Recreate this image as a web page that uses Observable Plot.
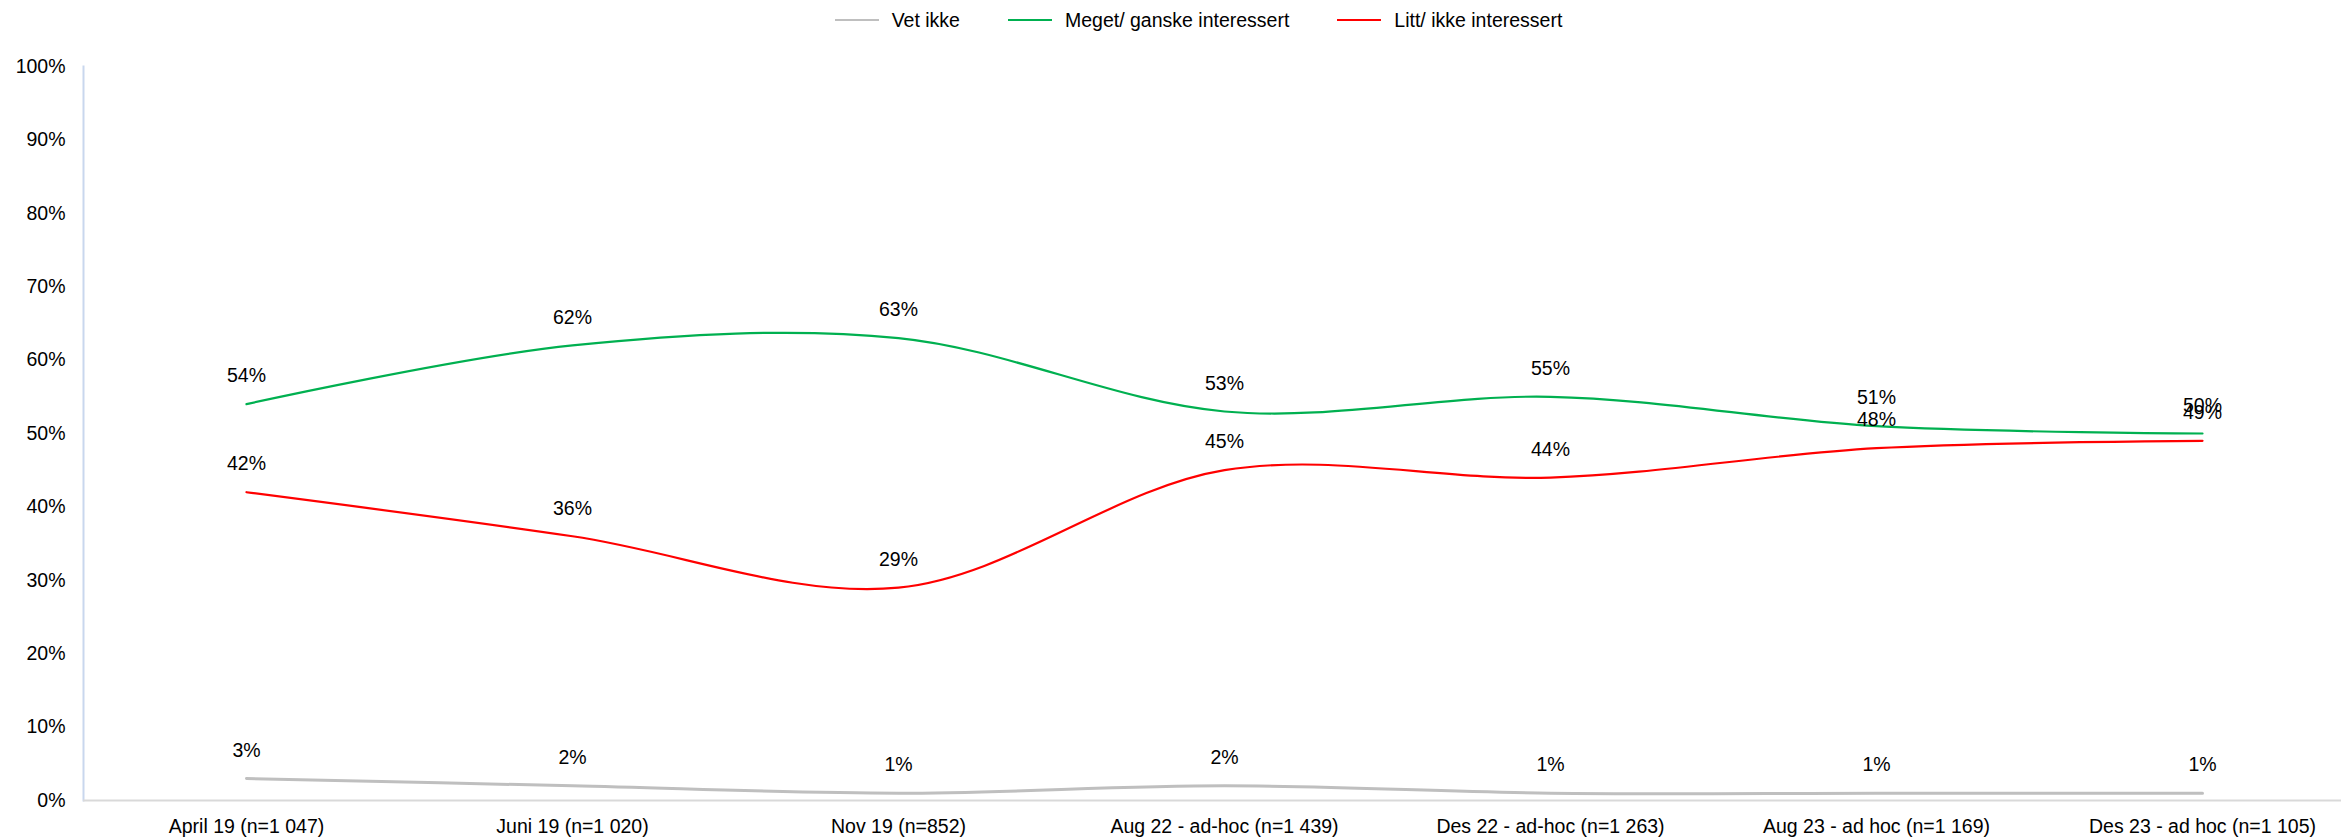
<!DOCTYPE html>
<html>
<head>
<meta charset="utf-8">
<script src="https://cdn.jsdelivr.net/npm/d3@7"></script>
<script src="https://cdn.jsdelivr.net/npm/@observablehq/plot@0.6"></script>
<style>
  html, body { margin: 0; padding: 0; background: #fff; }
  body { width: 2341px; height: 838px; overflow: hidden; font-family: "Liberation Sans", Arial, sans-serif; }
  #legend { height: 40px; display: flex; justify-content: center; align-items: center; font-size: 19.5px; color: #000; box-sizing: border-box; padding-left: 56px; }
  .item { display: flex; align-items: center; margin: 0 24px; }
  .swatch { width: 44px; height: 0; border-top: 2.5px solid; margin-right: 13px; }
</style>
</head>
<body>
<div id="legend"></div>
<div id="chart"></div>
<script>
const categories = [
  "April 19 (n=1 047)",
  "Juni 19 (n=1 020)",
  "Nov 19 (n=852)",
  "Aug 22 - ad-hoc (n=1 439)",
  "Des 22 - ad-hoc (n=1 263)",
  "Aug 23 - ad hoc (n=1 169)",
  "Des 23 - ad hoc (n=1 105)"
];
const seriesNames = ["Vet ikke", "Meget/ ganske interessert", "Litt/ ikke interessert"];
const seriesColors = ["#BFBFBF", "#00B050", "#FF0000"];
const vetIkke = [3, 2, 1, 2, 1, 1, 1];
const meget = [54, 62, 63, 53, 55, 51, 50];
const litt = [42, 36, 29, 45, 44, 48, 49];
const yTicks = [0, 10, 20, 30, 40, 50, 60, 70, 80, 90, 100];

const seriesValues = [vetIkke, meget, litt];
const data = [];
seriesNames.forEach((s, i) => {
  categories.forEach((c, j) => data.push({series: s, cat: c, value: seriesValues[i][j]}));
});

// legend
const legend = document.getElementById("legend");
seriesNames.forEach((s, i) => {
  const it = document.createElement("div");
  it.className = "item";
  const sw = document.createElement("span");
  sw.className = "swatch";
  sw.style.borderTopColor = seriesColors[i];
  const tx = document.createElement("span");
  tx.textContent = s;
  it.appendChild(sw); it.appendChild(tx);
  legend.appendChild(it);
});

const chart = Plot.plot({
  width: 2341,
  height: 798,
  marginLeft: 83,
  marginRight: 0,
  marginTop: 26,
  marginBottom: 38,
  style: {fontFamily: "'Liberation Sans', Arial, sans-serif", fontSize: "19.5px", color: "#000", background: "#fff"},
  x: {type: "point", domain: categories, range: [245, 2203], padding: 0, label: null, tickSize: 0, tickPadding: 19},
  y: {domain: [0, 100], ticks: yTicks, tickFormat: d => d + "%", label: null, tickSize: 0, tickPadding: 18},
  color: {domain: seriesNames, range: seriesColors},
  marks: [
    Plot.frame({anchor: "left", stroke: "#C9D7EE", strokeWidth: 2}),
    Plot.ruleY([0], {stroke: "#D9D9D9", strokeWidth: 2}),
    Plot.line(data.filter(d => d.series === "Vet ikke"), {x: "cat", y: "value", stroke: "series", strokeWidth: 3, curve: "catmull-rom"}),
    Plot.line(data.filter(d => d.series !== "Vet ikke"), {x: "cat", y: "value", stroke: "series", z: "series", strokeWidth: 2.2, curve: "catmull-rom"}),
    Plot.text(data, {x: "cat", y: "value", text: d => d.value + "%", dy: -28, fill: "#000", fontSize: 19.5}),
    Plot.axisY({ticks: yTicks, tickFormat: d => d + "%", tickSize: 0, tickPadding: 18, label: null}),
    Plot.axisX({tickSize: 0, tickPadding: 19, label: null})
  ]
});
document.getElementById("chart").appendChild(chart);
</script>
</body>
</html>
